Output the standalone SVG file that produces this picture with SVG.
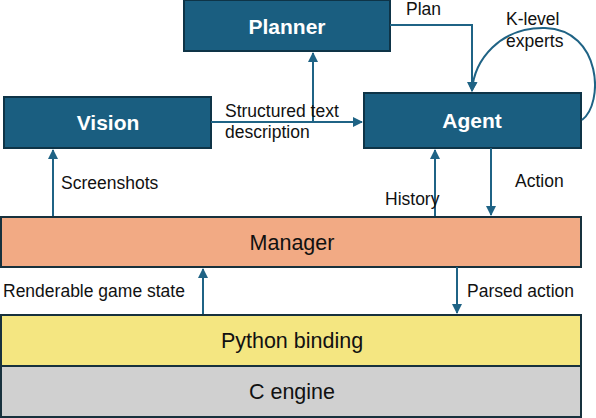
<svg xmlns="http://www.w3.org/2000/svg" width="596" height="418" viewBox="0 0 596 418">
<defs>
<style>
.dark{fill:#1a5e80;stroke:#0e3447;stroke-width:2}
.bt{font-family:"Liberation Sans",Arial,sans-serif;font-weight:bold;font-size:21px;fill:#ffffff;text-anchor:middle}
.lt{font-family:"Liberation Sans",Arial,sans-serif;font-size:21.5px;fill:#111111;text-anchor:middle}
.lab{font-family:"Liberation Sans",Arial,sans-serif;font-size:17.5px;fill:#111111}
.con{fill:none;stroke:#1f6385;stroke-width:2}
</style>
<marker id="ah" viewBox="0 0 10 10" refX="9" refY="5" markerWidth="5" markerHeight="5" orient="auto" markerUnits="strokeWidth">
<path d="M0 0 L10 5 L0 10 z" fill="#1f6385"/>
</marker>
</defs>
<rect width="596" height="418" fill="#ffffff"/>
<g id="planner"><rect class="dark" x="184" y="0" width="206" height="51"/><text class="bt" x="287" y="34">Planner</text></g>
<g id="vision"><rect class="dark" x="4" y="97" width="207" height="51"/><text class="bt" x="108" y="130">Vision</text></g>
<g id="agent"><rect class="dark" x="364" y="93" width="217" height="55"/><text class="bt" x="472" y="128">Agent</text></g>
<g id="manager"><rect x="1" y="217" width="580" height="50" fill="#f2aa84" stroke="#17313d" stroke-width="2"/><text class="lt" x="292" y="250">Manager</text></g>
<g id="python"><rect x="1" y="315" width="580" height="51" fill="#f4e681" stroke="#17313d" stroke-width="2"/><text class="lt" x="292" y="348">Python binding</text></g>
<g id="cengine"><rect x="1" y="366" width="580" height="51" fill="#d0d0d0" stroke="#17313d" stroke-width="2"/><text class="lt" x="292" y="399">C engine</text></g>
<g id="connectors">
<path class="con" d="M211 122 H362" marker-end="url(#ah)"/>
<path class="con" d="M313 122 V53" marker-end="url(#ah)"/>
<path class="con" d="M390 25 H472 V91" marker-end="url(#ah)"/>
<path class="con" d="M582 120 C604 104 602 30 545 28 C500 27 474 60 472 91" marker-end="url(#ah)"/>
<path class="con" d="M53 216 V150" marker-end="url(#ah)"/>
<path class="con" d="M435 216 V150" marker-end="url(#ah)"/>
<path class="con" d="M491 148 V215" marker-end="url(#ah)"/>
<path class="con" d="M203 314 V269" marker-end="url(#ah)"/>
<path class="con" d="M457 267 V313" marker-end="url(#ah)"/>
</g>
<g id="labels">
<text class="lab" x="225" y="117">Structured text</text>
<text class="lab" x="225" y="138">description</text>
<text class="lab" x="406" y="15">Plan</text>
<text class="lab" x="506" y="25">K-level</text>
<text class="lab" x="506" y="47">experts</text>
<text class="lab" x="61" y="189">Screenshots</text>
<text class="lab" x="385" y="205">History</text>
<text class="lab" x="515" y="187">Action</text>
<text class="lab" x="3" y="297">Renderable game state</text>
<text class="lab" x="467" y="297">Parsed action</text>
</g>
</svg>
